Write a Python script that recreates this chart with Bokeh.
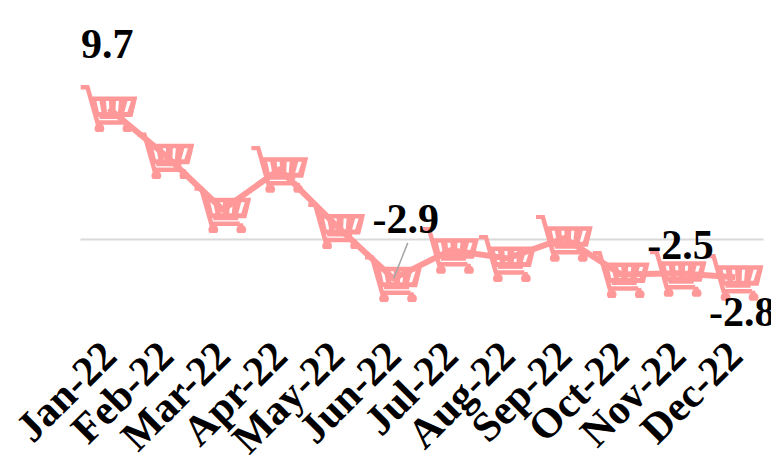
import base64
import math

from bokeh.core.properties import value
from bokeh.embed import file_html
from bokeh.models import ColumnDataSource, FixedTicker, Range1d
from bokeh.plotting import figure
from bokeh.resources import INLINE

months = ["Jan-22", "Feb-22", "Mar-22", "Apr-22", "May-22", "Jun-22",
          "Jul-22", "Aug-22", "Sep-22", "Oct-22", "Nov-22", "Dec-22"]
changes = [9.7, 6.2, 2.2, 5.2, 1.0, -2.9, -0.8, -1.4, 0.1, -2.6, -2.5, -2.8]

labelled_months = [0, 5, 10, 11]
label_texts = ["9.7", "-2.9", "-2.5", "-2.8"]
label_dx = [-28, -21, -31, -26]
label_dy = [-65, -60, -28, 35]

PINK = "#FF9999"
FONT = "Liberation Serif"

# Shopping cart marker, 57x47 px, as a small inline SVG
cart_svg = f"""<svg xmlns='http://www.w3.org/2000/svg' width='57' height='47' viewBox='0 0 57 47'>
<g fill='none' stroke='{PINK}' stroke-width='4.5'>
<path d='M0 2.2H7L17 37.5H45.5'/>
</g>
<path d='M10 11.5H57L52 32H14Z' fill='{PINK}'/>
<g fill='white'>
<path d='M16 16H19L21 27H18.5Z'/>
<path d='M25.5 16H28.5L29 27H26.5Z'/>
<path d='M35.5 16H38.5L37.5 27H35Z'/>
<path d='M47 16H50.5L47 27H44Z'/>
</g>
<path d='M19 32.5H44' stroke='{PINK}' stroke-width='3'/>
<circle cx='19' cy='43.5' r='4.9' fill='{PINK}'/>
<circle cx='47' cy='43.5' r='4.9' fill='{PINK}'/>
<path d='M19 37V42M47 37V42' stroke='{PINK}' stroke-width='3.5'/>
</svg>"""
cart_url = "data:image/svg+xml;base64," + base64.b64encode(cart_svg.encode()).decode()

xs = list(range(len(months)))
source = ColumnDataSource(dict(x=xs, y=changes, url=[cart_url] * len(xs)))

# The frame fills the whole page so the rotated month labels stay inside it;
# the month axis sits at AXIS_Y and the zero rule spans the twelve month bands.
AXIS_Y = -7.48
X_LEFT, X_RIGHT = -0.5, 11.5

p = figure(
    width=771, height=455,
    x_range=Range1d(-1.905, 11.64),
    y_range=Range1d(-16.0, 17.7),
    output_backend="svg", toolbar_location=None,
    min_border=0,
    outline_line_color=None, background_fill_color="white", border_fill_color="white",
)

p.grid.visible = False
p.yaxis.visible = False

axis = p.xaxis[0]
axis.fixed_location = AXIS_Y
axis.ticker = FixedTicker(ticks=xs)
axis.major_label_overrides = dict(zip(xs, months))
axis.major_label_orientation = math.pi / 4
axis.major_label_text_font = FONT
axis.major_label_text_font_style = "bold"
axis.major_label_text_font_size = "42px"
axis.major_label_text_color = "black"
axis.major_label_standoff = 2
axis.axis_line_color = None
axis.major_tick_line_color = None
axis.minor_tick_line_color = None

p.segment(x0=[X_LEFT], y0=[0], x1=[X_RIGHT], y1=[0], line_color="#D9D9D9", line_width=2)

p.image_url(url="url", x="x", y="y", w=57, h=47, w_units="screen", h_units="screen",
            anchor="center", source=source)
p.line("x", "y", source=source, line_color=PINK, line_width=6, line_join="round")

# Leader from the June label down to its point
p.segment(x0=[5 + 0.25], y0=[changes[5] + 2.65], x1=[5], y1=[changes[5]],
          line_color="#A6A6A6", line_width=1.5)

label_source = ColumnDataSource(dict(
    x=[xs[i] for i in labelled_months],
    y=[changes[i] for i in labelled_months],
    text=label_texts, dx=label_dx, dy=label_dy,
))
p.text("x", "y", text="text", source=label_source, x_offset="dx", y_offset="dy",
       text_font=value(FONT), text_font_style="bold", text_font_size="42px",
       text_color="black", text_align="left", text_baseline="middle", level="overlay")

open("out.html", "w").write(file_html(p, INLINE))
